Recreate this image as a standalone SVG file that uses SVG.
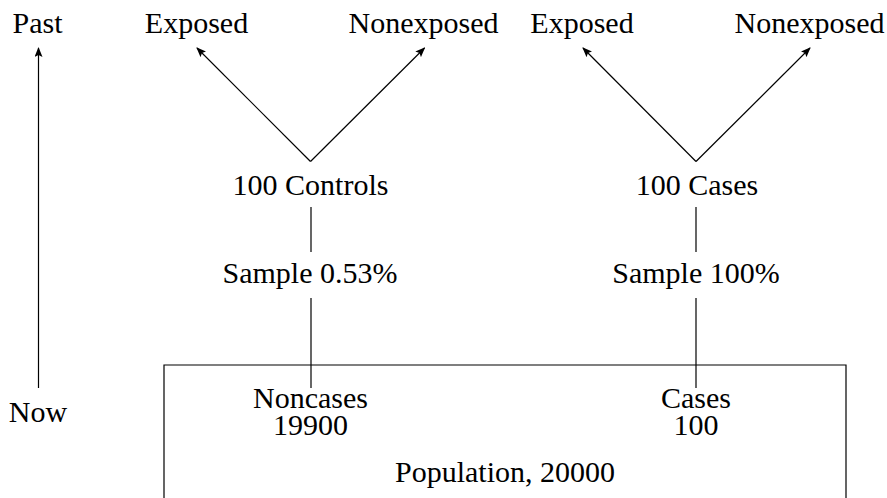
<svg xmlns="http://www.w3.org/2000/svg" width="887" height="498" viewBox="0 0 887 498">
  <style>
    text { font-family: "Liberation Serif", "DejaVu Serif", serif; font-size: 30px; fill: #000; text-anchor: middle; }
    .ln { stroke: #000; stroke-width: 1.2; fill: none; }
  </style>
  <defs>
    <marker id="arrow" viewBox="0 0 10 8" refX="9" refY="4" markerWidth="10" markerHeight="8" markerUnits="userSpaceOnUse" orient="auto">
      <path d="M0,0 L10,4 L0,8 L2,4 Z" fill="#000"/>
    </marker>
  </defs>
  <rect width="887" height="498" fill="#fff"/>

  <!-- time axis -->
  <g id="time-axis">
    <text x="37.5" y="33">Past</text>
    <text x="38" y="422">Now</text>
  </g>

  <!-- population box, open at the bottom edge -->
  <g id="population">
    <path class="ln" d="M164,500 V365 H846 V500"/>
    <text x="505" y="482">Population, 20000</text>
  </g>

  <g id="noncases">
    <text x="310.5" y="408">Noncases<tspan x="310.5" y="435">19900</tspan></text>
  </g>
  <g id="cases">
    <text x="696" y="408">Cases<tspan x="696" y="435">100</tspan></text>
  </g>

  <g id="sample-controls"><text x="310" y="283">Sample 0.53%</text></g>
  <g id="sample-cases"><text x="696" y="283">Sample 100%</text></g>

  <g id="controls"><text x="310.5" y="195">100 Controls</text></g>
  <g id="cases-100"><text x="697" y="195">100 Cases</text></g>

  <g id="controls-exposed"><text x="196.5" y="33">Exposed</text></g>
  <g id="controls-nonexposed"><text x="423.5" y="33">Nonexposed</text></g>
  <g id="cases-exposed"><text x="582" y="33">Exposed</text></g>
  <g id="cases-nonexposed"><text x="809.5" y="33">Nonexposed</text></g>

  <!-- connectors -->
  <g id="connectors">
    <line class="ln" x1="38.5" y1="388" x2="38.5" y2="48" marker-end="url(#arrow)"/>
    <line class="ln" x1="311" y1="388" x2="311" y2="298"/>
    <line class="ln" x1="311" y1="252" x2="311" y2="207"/>
    <line class="ln" x1="696" y1="388" x2="696" y2="298"/>
    <line class="ln" x1="696" y1="252" x2="696" y2="207"/>
    <line class="ln" x1="310.5" y1="161.5" x2="197" y2="48" marker-end="url(#arrow)"/>
    <line class="ln" x1="310.5" y1="161.5" x2="424.5" y2="48" marker-end="url(#arrow)"/>
    <line class="ln" x1="696" y1="161.5" x2="583" y2="48" marker-end="url(#arrow)"/>
    <line class="ln" x1="696" y1="161.5" x2="810" y2="48" marker-end="url(#arrow)"/>
  </g>
</svg>
